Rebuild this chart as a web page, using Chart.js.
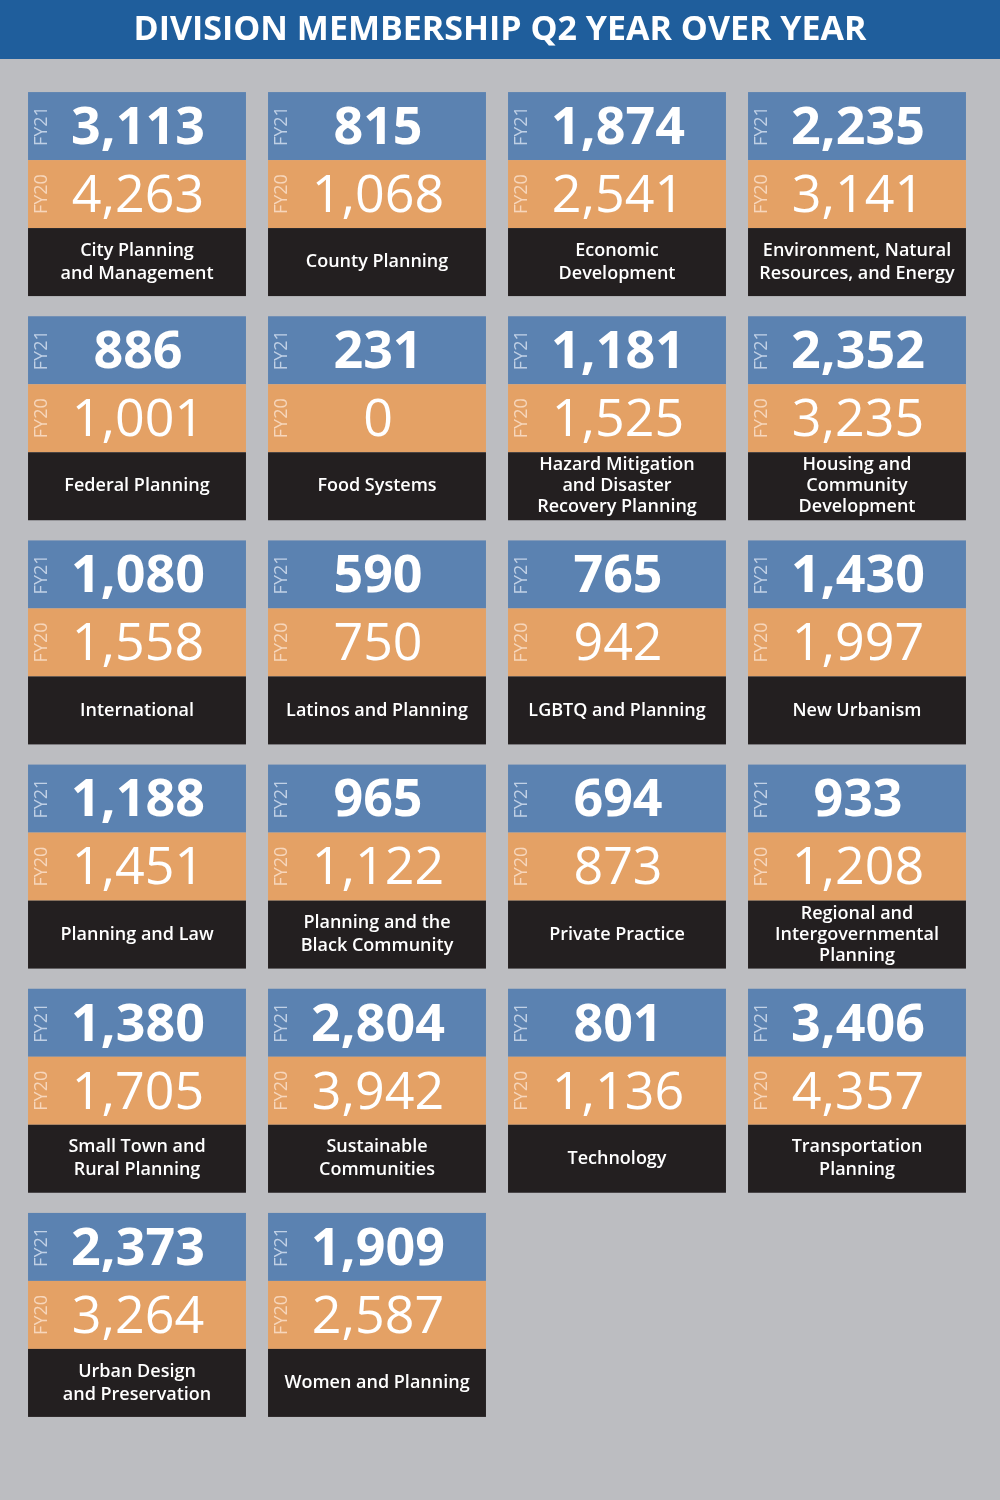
<!DOCTYPE html>
<html><head><meta charset="utf-8">
<script src="https://cdn.jsdelivr.net/npm/chart.js@4/dist/chart.umd.min.js"></script>
<style>html,body{margin:0;padding:0;background:#bcbdc1}#wrap{width:1000px;height:1500px}</style>
</head><body><div id="wrap"><canvas id="c"></canvas></div>
<script>
const title = "DIVISION MEMBERSHIP Q2 YEAR OVER YEAR";
const divisions = ["City Planning\nand Management","County Planning","Economic\nDevelopment","Environment, Natural\nResources, and Energy",
"Federal Planning","Food Systems","Hazard Mitigation\nand Disaster\nRecovery Planning","Housing and\nCommunity\nDevelopment",
"International","Latinos and Planning","LGBTQ and Planning","New Urbanism",
"Planning and Law","Planning and the\nBlack Community","Private Practice","Regional and\nIntergovernmental\nPlanning",
"Small Town and\nRural Planning","Sustainable\nCommunities","Technology","Transportation\nPlanning",
"Urban Design\nand Preservation","Women and Planning"];
const fy21 = [3113,815,1874,2235,886,231,1181,2352,1080,590,765,1430,1188,965,694,933,1380,2804,801,3406,2373,1909];
const fy20 = [4263,1068,2541,3141,1001,0,1525,3235,1558,750,942,1997,1451,1122,873,1208,1705,3942,1136,4357,3264,2587];
const COLS = 4;
const fmt = v => v.toLocaleString('en-US');
const pts = divisions.map((d,i)=>({x:i%COLS, y:Math.floor(i/COLS)}));

const tiles = {
  id:'tiles',
  beforeDraw(chart){
    const c=chart.ctx;
    c.save();
    c.fillStyle='#bcbdc1';c.fillRect(0,0,chart.width,chart.height);
    c.fillStyle='#1f5e9c';c.fillRect(0,0,chart.width,59);
    c.fillStyle='#fff';c.font='bold 34px "Open Sans"';c.textAlign='center';c.textBaseline='middle';
    c.fillText(title,chart.width/2,30);
    c.restore();
  },
  afterDatasetsDraw(chart){
    const c=chart.ctx, xs=chart.scales.x, ys=chart.scales.y;
    const w=(xs.getPixelForValue(1)-xs.getPixelForValue(0))*0.908;
    const h=(ys.getPixelForValue(1)-ys.getPixelForValue(0))*0.91;
    const sh=h/3;
    pts.forEach((p,i)=>{
      const cx=xs.getPixelForValue(p.x), cy=ys.getPixelForValue(p.y);
      const l=cx-w/2, t=cy-h/2;
      c.save();
      c.fillStyle='#5b82b1';c.fillRect(l,t,w,sh);
      c.fillStyle='#e4a165';c.fillRect(l,t+sh,w,sh);
      c.fillStyle='#231f20';c.fillRect(l,t+2*sh,w,h-2*sh);
      c.textAlign='center';c.textBaseline='middle';
      // FY labels rotated
      [['FY21',t+sh/2,'rgba(210,222,238,0.85)'],['FY20',t+1.5*sh,'rgba(248,220,196,0.9)']].forEach(([s,y,col])=>{
        c.save();c.translate(l+13,y);c.rotate(-Math.PI/2);
        c.fillStyle=col;c.font='18px "Open Sans"';c.fillText(s,0,1);c.restore();
      });
      c.fillStyle='#fff';
      c.font='bold 52px "Open Sans"';c.fillText(fmt(fy21[i]),cx+1,t+sh/2+3);
      c.font='52px "Open Sans"';c.fillText(fmt(fy20[i]),cx+1,t+1.5*sh+3);
      const lines=divisions[i].split('\n');
      const lh=lines.length>2?21:23;
      c.font='600 18px "Open Sans"';
      const mid=t+2.5*sh;
      lines.forEach((ln,k)=>c.fillText(ln,cx,mid+(k-(lines.length-1)/2)*lh));
      c.restore();
    });
  }
};

new Chart(document.getElementById('c'),{
  type:'scatter',
  data:{datasets:[{data:pts,pointRadius:0}]},
  options:{
    responsive:true,maintainAspectRatio:false,animation:false,
    layout:{padding:{left:17,right:23,top:82,bottom:73}},
    plugins:{legend:{display:false},tooltip:{enabled:false}},
    scales:{
      x:{type:'linear',min:-0.5,max:3.5,display:false},
      y:{type:'linear',min:-0.5,max:5.5,reverse:true,display:false}
    }
  },
  plugins:[tiles]
});
</script></body></html>
